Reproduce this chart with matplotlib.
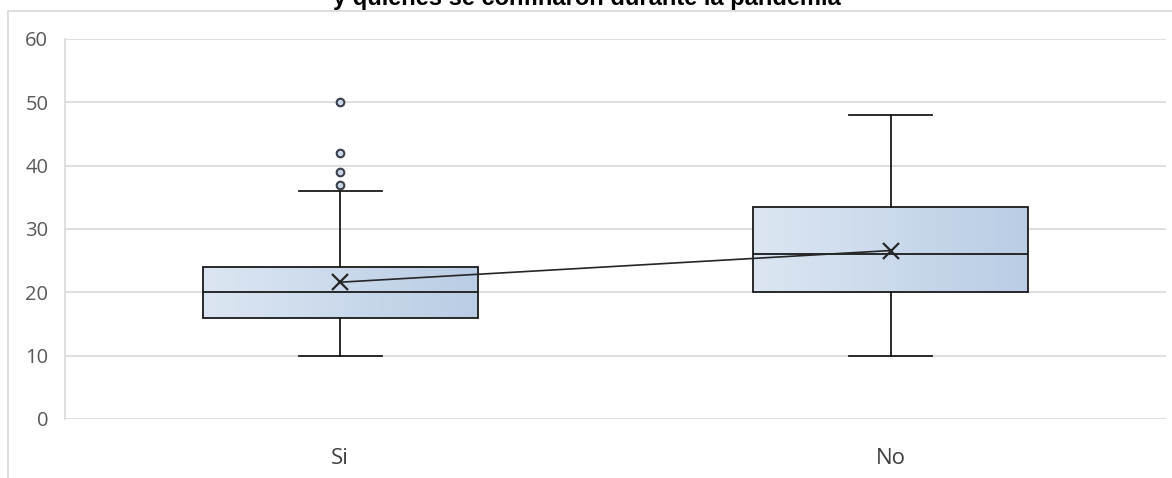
import matplotlib.pyplot as plt
import numpy as np
from matplotlib.patches import Rectangle

categorias = ['Si', 'No']
q1 = [16, 20]
mediana = [20, 26]
q3 = [24, 33.5]
bigote_inf = [10, 10]
bigote_sup = [36, 48]
media = [21.6, 26.6]
atipicos = [[37, 39, 42, 50], []]

titulo = 'y quienes se confinaron durante la pandemia'

W, H = 1172, 478
fig = plt.figure(figsize=(W / 100, H / 100), dpi=100)
ax = fig.add_axes([65 / W, (H - 419) / H, (1166 - 65) / W, 380 / H])

stats = []
for i in range(len(categorias)):
    stats.append({'label': categorias[i], 'q1': q1[i], 'med': mediana[i], 'q3': q3[i],
                  'whislo': bigote_inf[i], 'whishi': bigote_sup[i],
                  'mean': media[i], 'fliers': atipicos[i]})

pos = np.arange(len(categorias))
bp = ax.bxp(stats, positions=pos, widths=0.5, patch_artist=True, showmeans=False,
            boxprops=dict(facecolor='none', edgecolor='#1a1a1a', linewidth=1.3),
            medianprops=dict(color='#1a1a1a', linewidth=1.3),
            whiskerprops=dict(color='#1a1a1a', linewidth=1.3),
            capprops=dict(color='#1a1a1a', linewidth=1.3),
            flierprops=dict(marker='o', markersize=5.5, markerfacecolor='#c9d6e8',
                            markeredgecolor='#3a3f4a', markeredgewidth=1.5),
            zorder=3)
for c in bp['caps']:
    x = c.get_xdata()
    m = x.mean()
    c.set_xdata([m - 0.075, m + 0.075])

# relleno degradado de las cajas
grad = np.linspace(0, 1, 256).reshape(1, -1)
cmap = plt.matplotlib.colors.LinearSegmentedColormap.from_list('azul', ['#dce6f2', '#b9cde5'])
for i, caja in enumerate(bp['boxes']):
    im = ax.imshow(grad, cmap=cmap, aspect='auto', zorder=2,
                   extent=[pos[i] - 0.25, pos[i] + 0.25, q1[i], q3[i]])
    im.set_clip_path(caja)

# línea de medias
ax.plot(pos, media, color='#262626', linewidth=1.2, marker='x', markersize=11,
        markeredgewidth=1.6, zorder=4)

ax.set_xlim(-0.5, 1.5)
ax.set_ylim(0, 60)
ax.set_yticks(range(0, 61, 10))
ax.set_xticks(pos)
ax.set_xticklabels(categorias)
ax.yaxis.grid(True, color='#d9d9d9', linewidth=1.2)
ax.set_axisbelow(True)
for s in ['top', 'right', 'bottom']:
    ax.spines[s].set_visible(False)
ax.spines['left'].set_color('#d9d9d9')
ax.spines['left'].set_linewidth(1.2)
ax.tick_params(axis='y', length=0, labelsize=14.5, labelcolor='#595959', pad=12)
ax.tick_params(axis='x', length=0, labelsize=16, labelcolor='#404040', pad=21)
for t in ax.get_xticklabels() + ax.get_yticklabels():
    t.set_family('Open Sans')

# borde del gráfico
fig.patches.append(Rectangle((8 / W, 0 - 0.1), 1.2, 1 - 11 / H + 0.1, transform=fig.transFigure,
                             fill=False, edgecolor='#d9d9d9', linewidth=1.2))

fig.text(587 / W, 1 - 5 / H, titulo, ha='center', va='baseline', fontsize=17,
         fontweight='bold', family='Liberation Sans')

fig.savefig('out.png', dpi=100)
